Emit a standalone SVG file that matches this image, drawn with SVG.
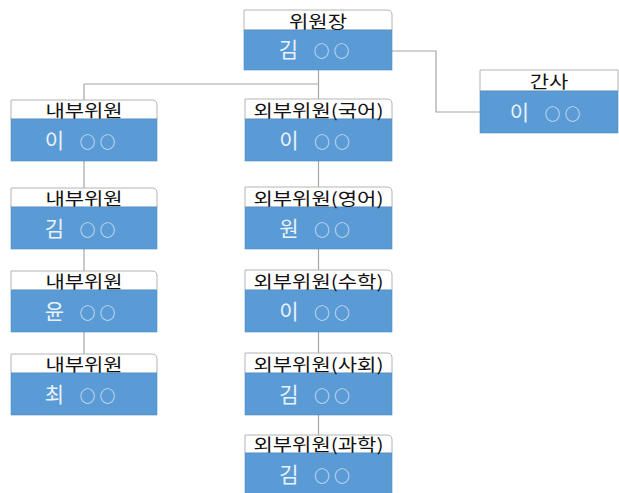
<svg xmlns="http://www.w3.org/2000/svg" width="619" height="493" viewBox="0 0 619 493">
<style>
.hd{fill:#ffffff;stroke:#b4b4b4;stroke-width:1}
.bd{fill:#5b9bd5;stroke:#4f8cc4;stroke-width:0.6}
.ht{font-family:"Noto Sans CJK KR","Noto Sans",sans-serif;font-size:21px;fill:#111;text-anchor:middle}
.bt{font-family:"Noto Sans CJK KR","Noto Sans",sans-serif;font-size:21px;fill:#eaf2fb;text-anchor:middle}
.c{font-size:15.5px}
.cn{fill:none;stroke:#a6a6a6;stroke-width:1.2}
</style>
<g id="connectors">
<path class="cn" d="M318.5,70 V84 M84,84 H318.5 M84,84 V100 M318.5,84 V99"/>
<path class="cn" d="M392,51 H436 V112 H480"/>
<path class="cn" d="M84,161 V188 M84,249 V271 M84,332 V354"/>
<path class="cn" d="M318.5,161 V188 M318.5,249 V271 M318.5,332 V354 M318.5,415 V436"/>
</g>
<g id="n-chair" transform="translate(244,10)">
<path class="hd" d="M0,0 H143 Q148,0 148,5 V20 H0 Z"/>
<rect class="bd" x="0" y="20" width="148" height="40"/>
<text class="ht" transform="translate(74,17.5) scale(1,0.82)">위원장</text>
<text class="bt" y="47"><tspan x="44.5">김</tspan><tspan class="c" x="77.5">○</tspan><tspan class="c" x="97.5">○</tspan></text>
</g>
<g id="n-sec" transform="translate(480,70)">
<path class="hd" d="M0,0 H138 V21 H0 Z"/>
<rect class="bd" x="0" y="21" width="138" height="42"/>
<text class="ht" transform="translate(69,18) scale(1,0.82)">간사</text>
<text class="bt" y="49.5"><tspan x="39.5">이</tspan><tspan class="c" x="72.5">○</tspan><tspan class="c" x="92.5">○</tspan></text>
</g>
<g id="n-in1" transform="translate(11,100)">
<path class="hd" d="M0,0 H141 Q146,0 146,5 V19 H0 Z"/>
<rect class="bd" x="0" y="19" width="146" height="42"/>
<text class="ht" transform="translate(73,17) scale(1,0.82)">내부위원</text>
<text class="bt" y="47.5"><tspan x="43.5">이</tspan><tspan class="c" x="76.5">○</tspan><tspan class="c" x="96.5">○</tspan></text>
</g>
<g id="n-in2" transform="translate(11,188)">
<path class="hd" d="M0,0 H141 Q146,0 146,5 V19 H0 Z"/>
<rect class="bd" x="0" y="19" width="146" height="42"/>
<text class="ht" transform="translate(73,17) scale(1,0.82)">내부위원</text>
<text class="bt" y="47.5"><tspan x="43.5">김</tspan><tspan class="c" x="76.5">○</tspan><tspan class="c" x="96.5">○</tspan></text>
</g>
<g id="n-in3" transform="translate(11,271)">
<path class="hd" d="M0,0 H141 Q146,0 146,5 V19 H0 Z"/>
<rect class="bd" x="0" y="19" width="146" height="42"/>
<text class="ht" transform="translate(73,17) scale(1,0.82)">내부위원</text>
<text class="bt" y="47.5"><tspan x="43.5">윤</tspan><tspan class="c" x="76.5">○</tspan><tspan class="c" x="96.5">○</tspan></text>
</g>
<g id="n-in4" transform="translate(11,354)">
<path class="hd" d="M0,0 H141 Q146,0 146,5 V19 H0 Z"/>
<rect class="bd" x="0" y="19" width="146" height="42"/>
<text class="ht" transform="translate(73,17) scale(1,0.82)">내부위원</text>
<text class="bt" y="47.5"><tspan x="43.5">최</tspan><tspan class="c" x="76.5">○</tspan><tspan class="c" x="96.5">○</tspan></text>
</g>
<g id="n-ex1" transform="translate(245,99)">
<path class="hd" d="M0,0 H142 Q147,0 147,5 V20 H0 Z"/>
<rect class="bd" x="0" y="20" width="147" height="42"/>
<text class="ht" transform="translate(73.5,17.5) scale(1,0.82)">외부위원(국어)</text>
<text class="bt" y="48.5"><tspan x="44">이</tspan><tspan class="c" x="77">○</tspan><tspan class="c" x="97">○</tspan></text>
</g>
<g id="n-ex2" transform="translate(245,187)">
<path class="hd" d="M0,0 H142 Q147,0 147,5 V20 H0 Z"/>
<rect class="bd" x="0" y="20" width="147" height="42"/>
<text class="ht" transform="translate(73.5,17.5) scale(1,0.82)">외부위원(영어)</text>
<text class="bt" y="48.5"><tspan x="44">원</tspan><tspan class="c" x="77">○</tspan><tspan class="c" x="97">○</tspan></text>
</g>
<g id="n-ex3" transform="translate(245,270)">
<path class="hd" d="M0,0 H142 Q147,0 147,5 V20 H0 Z"/>
<rect class="bd" x="0" y="20" width="147" height="42"/>
<text class="ht" transform="translate(73.5,17.5) scale(1,0.82)">외부위원(수학)</text>
<text class="bt" y="48.5"><tspan x="44">이</tspan><tspan class="c" x="77">○</tspan><tspan class="c" x="97">○</tspan></text>
</g>
<g id="n-ex4" transform="translate(245,353)">
<path class="hd" d="M0,0 H142 Q147,0 147,5 V20 H0 Z"/>
<rect class="bd" x="0" y="20" width="147" height="42"/>
<text class="ht" transform="translate(73.5,17.5) scale(1,0.82)">외부위원(사회)</text>
<text class="bt" y="48.5"><tspan x="44">김</tspan><tspan class="c" x="77">○</tspan><tspan class="c" x="97">○</tspan></text>
</g>
<g id="n-ex5" transform="translate(245,435)">
<path class="hd" d="M0,0 H142 Q147,0 147,5 V18 H0 Z"/>
<rect class="bd" x="0" y="18" width="147" height="42"/>
<text class="ht" transform="translate(73.5,16) scale(1,0.82)">외부위원(과학)</text>
<text class="bt" y="46.5"><tspan x="44">김</tspan><tspan class="c" x="77">○</tspan><tspan class="c" x="97">○</tspan></text>
</g>
</svg>
